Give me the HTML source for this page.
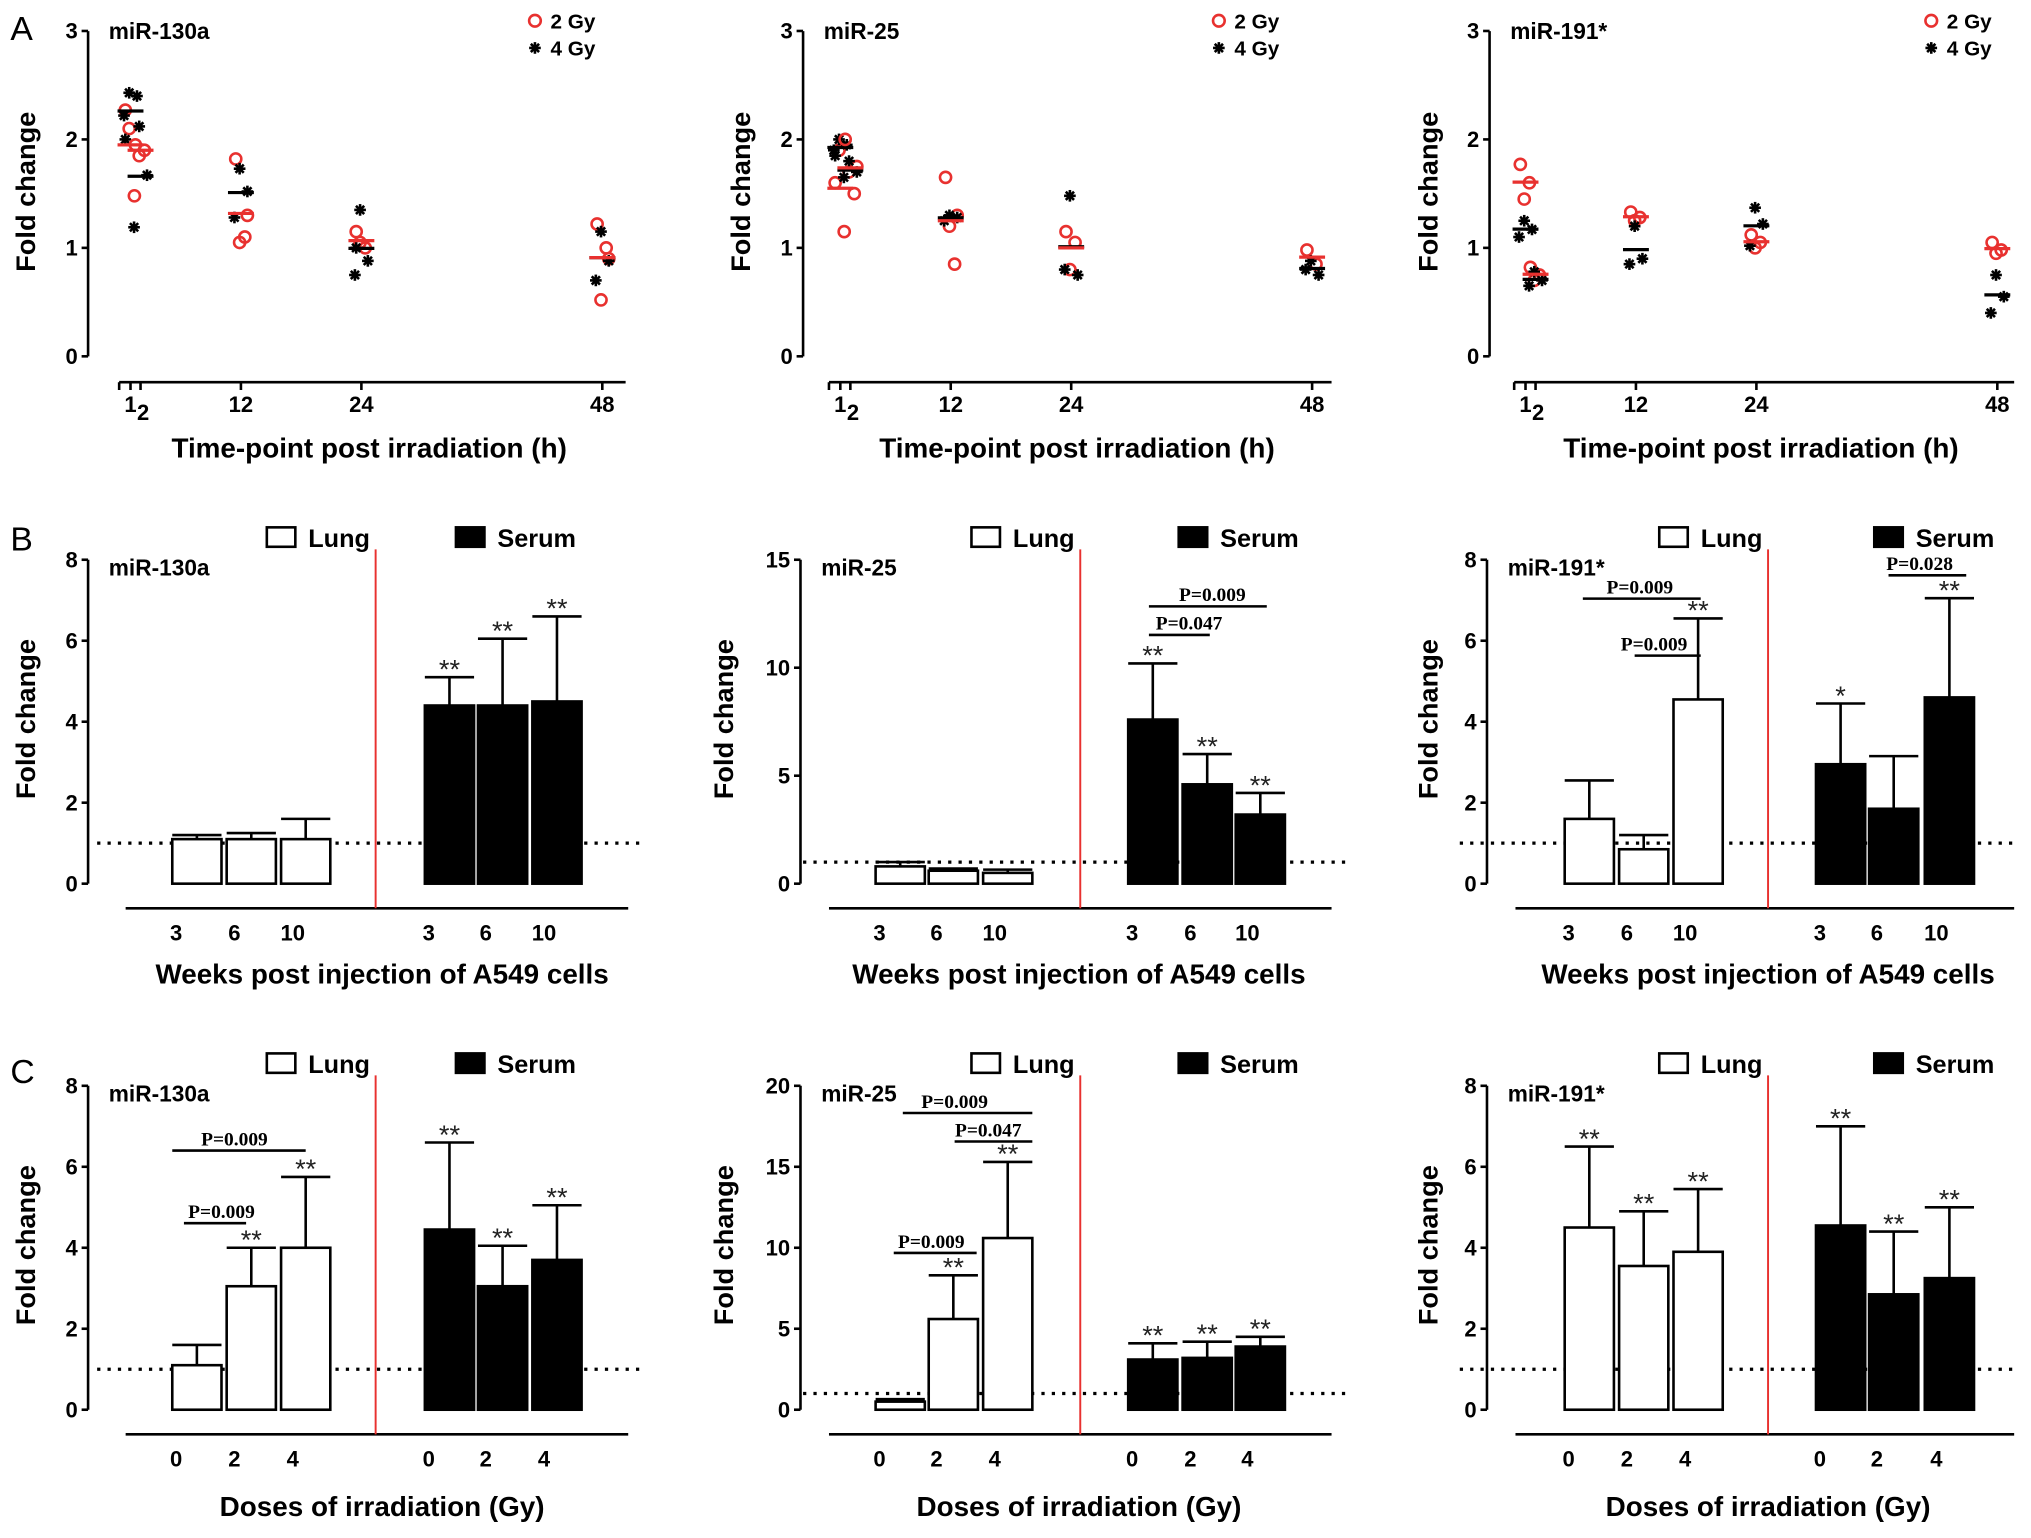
<!DOCTYPE html>
<html><head><meta charset="utf-8"><style>
html,body{margin:0;padding:0;background:#fff;}
svg{display:block;font-family:"Liberation Sans",Arial,sans-serif;}
</style></head><body>
<svg id="fig" width="2031" height="1538" viewBox="0 0 1568 1187" preserveAspectRatio="none" xmlns="http://www.w3.org/2000/svg"></svg>
<script>
// ---------- Row A data ----------
const timeTicks = [1, 2, 12, 24, 48];
const a1Gy2 = [[2.27, 1.48, 2.1], [1.95, 1.9, 1.85], [1.82, 1.1, 1.05, 1.3], [1.15, 1.0, 1.05], [1.22, 1.0, 0.52, 0.9]];
const a1Gy4 = [[2.43, 2.4, 2.22, 2.0], [2.12, 1.67, 1.19], [1.73, 1.52, 1.28], [1.35, 0.88, 0.75, 1.0], [1.15, 0.88, 0.7]];
const a2Gy2 = [[1.6, 1.15, 1.9], [2.0, 1.5, 1.7, 1.75], [1.65, 0.85, 1.2, 1.3], [1.15, 1.05, 0.8], [0.98, 0.85]];
const a2Gy4 = [[2.0, 1.95, 1.9, 1.85], [1.8, 1.7, 1.65], [1.3, 1.28, 1.25], [1.48, 0.75, 0.8], [0.88, 0.75, 0.8]];
const a3Gy2 = [[1.77, 1.6, 1.45], [0.82, 0.75, 0.7], [1.33, 1.28, 1.25], [1.12, 1.05, 1.0], [1.05, 0.98, 0.95]];
const a3Gy4 = [[1.25, 1.17, 1.1], [0.78, 0.7, 0.65], [1.2, 0.9, 0.85], [1.37, 1.22, 1.02], [0.75, 0.55, 0.4]];
const aYTicks = [0, 1, 2, 3];
// ---------- Row B data ----------
const weekLabels = ['3', '6', '10'];
const b1Lung = [1.1, 1.1, 1.1], b1LungErr = [0.1, 0.15, 0.5];
const b1Serum = [4.4, 4.4, 4.5], b1SerumErr = [0.7, 1.65, 2.1];
const b2Lung = [0.8, 0.6, 0.5], b2LungErr = [0.2, 0.1, 0.15];
const b2Serum = [7.6, 4.6, 3.2], b2SerumErr = [2.6, 1.4, 1.0];
const b3Lung = [1.6, 0.85, 4.55], b3LungErr = [0.95, 0.35, 2.0];
const b3Serum = [2.95, 1.85, 4.6], b3SerumErr = [1.5, 1.3, 2.45];
// ---------- Row C data ----------
const doseLabels = ['0', '2', '4'];
const c1Lung = [1.1, 3.05, 4.0], c1LungErr = [0.5, 0.95, 1.75];
const c1Serum = [4.45, 3.05, 3.7], c1SerumErr = [2.15, 1.0, 1.35];
const c2Lung = [0.5, 5.6, 10.6], c2LungErr = [0.15, 2.7, 4.7];
const c2Serum = [3.1, 3.2, 3.9], c2SerumErr = [1.0, 1.0, 0.6];
const c3Lung = [4.5, 3.55, 3.9], c3LungErr = [2.0, 1.35, 1.55];
const c3Serum = [4.55, 2.85, 3.25], c3SerumErr = [2.45, 1.55, 1.75];
const yTicks8 = [0, 2, 4, 6, 8], yTicks15 = [0, 5, 10, 15], yTicks20 = [0, 5, 10, 15, 20];

const NS = 'http://www.w3.org/2000/svg';
const svg = document.getElementById('fig');
function el(tag, attrs, parent, txt) {
  const e = document.createElementNS(NS, tag);
  for (const k in attrs) e.setAttribute(k, attrs[k]);
  if (txt !== undefined) e.textContent = txt;
  (parent || svg).appendChild(e);
  return e;
}
function grp(name, parent) {
  const g = el('g', {}, parent);
  
  
  return g;
}
function txt(g, x, y, s, size, opts) {
  opts = opts || {};
  const t = el('text', {x: x, y: y, 'font-size': size, 'font-weight': opts.w || 'bold', 'text-anchor': opts.a || 'middle', fill: opts.fill || '#000', 'font-family': opts.f || '"Liberation Sans", Arial, sans-serif'}, g, s);
  if (opts.rot) t.setAttribute('transform', 'rotate(-90 ' + x + ' ' + y + ')');
  return t;
}
function star(g, x, y, r) {
  for (let k = 0; k < 4; k++) {
    const a = k * Math.PI / 4;
    el('line', {x1: x - r * Math.cos(a), y1: y - r * Math.sin(a), x2: x + r * Math.cos(a), y2: y + r * Math.sin(a), stroke: '#000', 'stroke-width': 2}, g);
  }
}

// ---------- Panel letters ----------
[['A', 8, 31], ['B', 8, 425], ['C', 8, 836]].forEach(p => {
  const t = txt(svg, p[1], p[2], p[0], 26, {w: 'normal', a: 'start'});
  
  
});

// ---------- Row A scatter ----------
function scatterPanel(name, title, axX, x0, xEnd, legX, g2, g4, ylX) {
  const g = grp(name);
  const yS = v => 275 - v * 83.7;
  const xS = t => x0 + t * 7.75;
  el('line', {x1: axX, y1: 24, x2: axX, y2: 275, stroke: '#000', 'stroke-width': 2}, g);
  aYTicks.forEach(v => {
    el('line', {x1: axX - 5, y1: yS(v), x2: axX, y2: yS(v), stroke: '#000', 'stroke-width': 2}, g);
    txt(g, axX - 8, yS(v) + 6, String(v), 17, {a: 'end'});
  });
  el('line', {x1: x0 - 1, y1: 295, x2: xEnd, y2: 295, stroke: '#000', 'stroke-width': 2}, g);
  el('line', {x1: x0 - 1, y1: 295, x2: x0 - 1, y2: 301, stroke: '#000', 'stroke-width': 2}, g);
  timeTicks.forEach((t, i) => {
    el('line', {x1: xS(t), y1: 295, x2: xS(t), y2: 301, stroke: '#000', 'stroke-width': 2}, g);
    const dy = (i === 1) ? 324 : 318;
    txt(g, xS(t) + (i === 1 ? 2 : 0), dy, String(t), 17);
  });
  const xt = txt(g, (x0 + xEnd) / 2 - 3, 353, 'Time-point post irradiation (h)', 21.5);
  
  
  const yl = txt(g, ylX, 148, 'Fold change', 21, {rot: true});
  
  
  const tl = txt(g, axX + 16, 30, title, 17.5, {a: 'start'});
  
  
  const lg = grp('legend', g);
  el('circle', {cx: legX, cy: 16, r: 4.5, fill: 'none', stroke: '#e8312f', 'stroke-width': 2}, lg);
  txt(lg, legX + 12, 22, '2 Gy', 16, {a: 'start'});
  star(lg, legX, 37, 4.5);
  txt(lg, legX + 12, 43, '4 Gy', 16, {a: 'start'});
  const offs = [-4, 3, -1, 5, -5];
  timeTicks.forEach((t, i) => {
    const cx = xS(t);
    const s2 = grp('series-2gy-' + t + 'h', g);
    g2[i].forEach((v, j) => {
      const c = el('circle', {cx: cx + offs[j % 5], cy: yS(v), r: 4.3, fill: 'none', stroke: '#e8312f', 'stroke-width': 2}, s2);
      
      
    });
    const s4 = grp('series-4gy-' + t + 'h', g);
    g4[i].forEach((v, j) => { star(s4, cx + offs[(j + 2) % 5], yS(v), 4.5); });
    const m2 = g2[i].reduce((a, b) => a + b, 0) / g2[i].length;
    const m4 = g4[i].reduce((a, b) => a + b, 0) / g4[i].length;
    el('line', {x1: cx - 10, y1: yS(m4), x2: cx + 10, y2: yS(m4), stroke: '#000', 'stroke-width': 2.5}, g);
    el('line', {x1: cx - 10, y1: yS(m2), x2: cx + 10, y2: yS(m2), stroke: '#e8312f', 'stroke-width': 2.5}, g);
  });
}
scatterPanel('scatter-mir-130a', 'miR-130a', 68, 93, 483, 413, a1Gy2, a1Gy4, 27);
scatterPanel('scatter-mir-25', 'miR-25', 620, 641, 1028, 941, a2Gy2, a2Gy4, 579);
scatterPanel('scatter-mir-191', 'miR-191*', 1150, 1170, 1555, 1491, a3Gy2, a3Gy4, 1110);

// ---------- Bar panels ----------
function barPanel(o) {
  const g = grp(o.name);
  const yS = v => o.y0 - v * (o.y0 - o.yTop) / o.max;
  el('line', {x1: o.axX, y1: o.yTop, x2: o.axX, y2: o.y0, stroke: '#000', 'stroke-width': 2}, g);
  o.ticks.forEach(v => {
    el('line', {x1: o.axX - 5, y1: yS(v), x2: o.axX, y2: yS(v), stroke: '#000', 'stroke-width': 2}, g);
    txt(g, o.axX - 8, yS(v) + 6, String(v), 17, {a: 'end'});
  });
  el('line', {x1: o.baseX1, y1: o.y0 + 19, x2: o.baseX2, y2: o.y0 + 19, stroke: '#000', 'stroke-width': 2}, g);
  el('line', {x1: o.red, y1: o.yTop - 8, x2: o.red, y2: o.y0 + 19, stroke: '#e8312f', 'stroke-width': 1.5}, g);
  el('line', {x1: o.dotX1, y1: yS(1), x2: o.dotX2, y2: yS(1), stroke: '#000', 'stroke-width': 2.5, 'stroke-dasharray': '2.5 5.5'}, g);
  const bw = 38;
  function drawBars(vals, errs, starts, fill, sig, lbl) {
    vals.forEach((v, i) => {
      const x = starts[i], cx = x + bw / 2;
      const top = yS(v + errs[i]);
      el('line', {x1: cx, y1: yS(v), x2: cx, y2: top, stroke: '#000', 'stroke-width': 2}, g);
      el('line', {x1: cx - 19, y1: top, x2: cx + 19, y2: top, stroke: '#000', 'stroke-width': 2}, g);
      const r = el('rect', {x: x, y: yS(v), width: bw, height: o.y0 - yS(v), fill: fill, stroke: '#000', 'stroke-width': 2}, g);
      
      
      if (sig && sig[i]) txt(g, cx, top + 1, sig[i], 21, {w: 'normal', fill: '#222'});
      txt(g, cx - 16 + i * 3, o.y0 + 44, o.cats[i], 17);
    });
  }
  drawBars(o.lung, o.lungErr, o.lungX, '#fff', o.lungSig, 'lung');
  drawBars(o.serum, o.serumErr, o.serumX, '#000', o.serumSig, 'serum');
  (o.brackets || []).forEach(b => {
    el('line', {x1: b[0], y1: b[2], x2: b[1], y2: b[2], stroke: '#000', 'stroke-width': 2}, g);
    txt(g, b[3], b[2] - 4, b[4], 15, {f: '"Liberation Serif", serif'});
  });
  const xt = txt(g, o.titleX, o.y0 + o.titleDy, o.xTitle, 21.5);
  
  
  const yl = txt(g, o.ylX, o.y0 - 127, 'Fold change', 21, {rot: true});
  
  
  const tl = txt(g, o.axX + 16, o.yTop + 12, o.title, 17.5, {a: 'start'});
  
  
  const lg = grp('legend', g);
  el('rect', {x: o.legL, y: o.yTop - 25, width: 22, height: 15, fill: '#fff', stroke: '#000', 'stroke-width': 2}, lg);
  txt(lg, o.legL + 32, o.yTop - 10, 'Lung', 19.5, {a: 'start'});
  el('rect', {x: o.legS, y: o.yTop - 25, width: 22, height: 15, fill: '#000', stroke: '#000', 'stroke-width': 2}, lg);
  txt(lg, o.legS + 32, o.yTop - 10, 'Serum', 19.5, {a: 'start'});
}
const lx1 = [133, 175, 217], sx1 = [328, 369, 411];
const lx2 = [676, 717, 759], sx2 = [871, 913, 954];
const lx3 = [1208, 1250, 1292], sx3 = [1402, 1443, 1486];
const rowB = {yTop: 432, y0: 682, cats: weekLabels, xTitle: 'Weeks post injection of A549 cells', titleDy: 77};
const rowC = {yTop: 838, y0: 1088, cats: doseLabels, xTitle: 'Doses of irradiation (Gy)', titleDy: 82};
const col1 = {axX: 68, baseX1: 97, baseX2: 485, red: 290, dotX1: 75, dotX2: 495, titleX: 295, ylX: 27, legL: 206, legS: 352, lungX: lx1, serumX: sx1};
const col2 = {axX: 618, baseX1: 640, baseX2: 1028, red: 834, dotX1: 620, dotX2: 1040, titleX: 833, ylX: 566, legL: 750, legS: 910, lungX: lx2, serumX: sx2};
const col3 = {axX: 1148, baseX1: 1170, baseX2: 1555, red: 1365, dotX1: 1127, dotX2: 1555, titleX: 1365, ylX: 1110, legL: 1281, legS: 1447, lungX: lx3, serumX: sx3};
barPanel(Object.assign({}, rowB, col1, {name: 'bar-b-mir-130a', title: 'miR-130a', max: 8, ticks: yTicks8, lung: b1Lung, lungErr: b1LungErr, serum: b1Serum, serumErr: b1SerumErr, serumSig: ['**', '**', '**']}));
barPanel(Object.assign({}, rowB, col2, {name: 'bar-b-mir-25', title: 'miR-25', max: 15, ticks: yTicks15, lung: b2Lung, lungErr: b2LungErr, serum: b2Serum, serumErr: b2SerumErr, serumSig: ['**', '**', '**'], brackets: [[887, 978, 468, 936, 'P=0.009'], [887, 934, 490, 918, 'P=0.047']]}));
barPanel(Object.assign({}, rowB, col3, {name: 'bar-b-mir-191', title: 'miR-191*', max: 8, ticks: yTicks8, lung: b3Lung, lungErr: b3LungErr, serum: b3Serum, serumErr: b3SerumErr, lungSig: ['', '', '**'], serumSig: ['*', '', '**'], brackets: [[1222, 1313, 462, 1266, 'P=0.009'], [1262, 1313, 506, 1277, 'P=0.009'], [1458, 1518, 444, 1482, 'P=0.028']]}));
barPanel(Object.assign({}, rowC, col1, {name: 'bar-c-mir-130a', title: 'miR-130a', max: 8, ticks: yTicks8, lung: c1Lung, lungErr: c1LungErr, serum: c1Serum, serumErr: c1SerumErr, lungSig: ['', '**', '**'], serumSig: ['**', '**', '**'], brackets: [[133, 236, 888, 181, 'P=0.009'], [142, 190, 944, 171, 'P=0.009']]}));
barPanel(Object.assign({}, rowC, col2, {name: 'bar-c-mir-25', title: 'miR-25', max: 20, ticks: yTicks20, lung: c2Lung, lungErr: c2LungErr, serum: c2Serum, serumErr: c2SerumErr, lungSig: ['', '**', '**'], serumSig: ['**', '**', '**'], brackets: [[697, 797, 859, 737, 'P=0.009'], [737, 797, 881, 763, 'P=0.047'], [690, 754, 967, 719, 'P=0.009']]}));
barPanel(Object.assign({}, rowC, col3, {name: 'bar-c-mir-191', title: 'miR-191*', max: 8, ticks: yTicks8, lung: c3Lung, lungErr: c3LungErr, serum: c3Serum, serumErr: c3SerumErr, lungSig: ['**', '**', '**'], serumSig: ['**', '**', '**']}));
</script>
</body></html>
